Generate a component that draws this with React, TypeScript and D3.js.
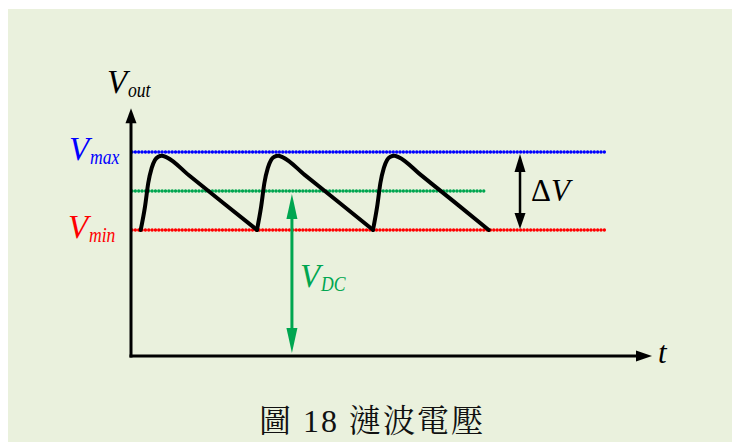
import React from 'react'
import * as d3 from 'd3'

// levels (fraction of Vmax)
const vMax = 1.0
const vMin = 0.618
const vDC = 0.809

// ripple waveform: [t (periods), v]
const cycle1: [number, number][] = [
	[0.084, 0.618], [0.121, 0.732], [0.149, 0.848], [0.179, 0.922], [0.207, 0.961],
	[0.236, 0.977], [0.265, 0.982], [0.308, 0.974], [0.5, 0.886], [0.8, 0.749], [1.088, 0.618]
]
const cycle2: [number, number][] = [
	[1.088, 0.618], [1.124, 0.732], [1.152, 0.848], [1.182, 0.922], [1.21, 0.961],
	[1.24, 0.977], [1.27, 0.982], [1.312, 0.974], [1.5, 0.888], [1.8, 0.751], [2.09, 0.618]
]
const cycle3: [number, number][] = [
	[2.09, 0.618], [2.126, 0.732], [2.154, 0.848], [2.184, 0.922], [2.212, 0.961],
	[2.242, 0.977], [2.272, 0.982], [2.314, 0.974], [2.5, 0.889], [2.8, 0.752], [3.09, 0.618]
]

// horizontal extents
const tAxisEnd = 4.5
const vAxisEnd = 1.215
const levelEnd = 4.11
const dcEnd = 3.07
const deltaT = 3.36
const dcArrowT = 1.39

const W = 732
const H = 442
const serif = 'Liberation Serif, DejaVu Serif, serif'
const green = '#00a650'

// V with a narrow italic subscript
const VLabel = ({ x, y, sub, color }: { x: number; y: number; sub: string; color: string }) => (
	<g fontFamily={serif} fontStyle="italic" fill={color}>
		<text x={x} y={y} fontSize={33}>V</text>
		<text transform={`translate(${x + 21},${y + 4}) scale(0.8,1)`} fontSize={22}>
			{sub}
		</text>
	</g>
)

const App = () => {
	const x = d3.scaleLinear().domain([0, tAxisEnd]).range([131, 652])
	const y = d3.scaleLinear().domain([0, vMax]).range([356, 152])

	const line = d3
		.line<[number, number]>()
		.x((d) => x(d[0]))
		.y((d) => y(d[1]))
		.curve(d3.curveMonotoneX)

	const dotted = (v: number, end: number, color: string) => (
		<line
			x1={x(0) + 1}
			x2={x(end)}
			y1={y(v)}
			y2={y(v)}
			stroke={color}
			strokeWidth={3.4}
			strokeLinecap="round"
			strokeDasharray="0 3.35"
		/>
	)

	// arrow head helper: tip at (tx,ty), pointing direction (dx,dy)
	const head = (tx: number, ty: number, dx: number, dy: number, len: number, wid: number, fill: string) => {
		const bx = tx - dx * len
		const by = ty - dy * len
		const px = -dy * wid / 2
		const py = dx * wid / 2
		return <path d={`M${tx},${ty}L${bx + px},${by + py}L${bx - px},${by - py}Z`} fill={fill} />
	}

	return (
		<svg
			width={W}
			height={H}
			style={{ position: 'absolute', left: 0, top: 0, background: '#fff' }}
		>
			<rect x={8} y={9} width={W - 8} height={H - 9} fill="#eaf1dd" />

			{/* level lines */}
			{dotted(vMax, levelEnd, '#0000ff')}
			{dotted(vDC, dcEnd, green)}
			{dotted(vMin, levelEnd, '#ff0000')}

			{/* waveform */}
			{[cycle1, cycle2, cycle3].map((c, i) => (
				<path
					key={i}
					d={line(c) || ''}
					fill="none"
					stroke="#000"
					strokeWidth={4}
					strokeLinejoin="round"
					strokeLinecap="round"
				/>
			))}

			{/* axes */}
			<line x1={x(0)} x2={x(0)} y1={y(0) + 1.5} y2={y(vAxisEnd) + 12} stroke="#000" strokeWidth={3} />
			{head(x(0), y(vAxisEnd), 0, -1, 15, 11, '#000')}
			<line x1={x(0) - 1.5} x2={x(tAxisEnd) - 12} y1={y(0)} y2={y(0)} stroke="#000" strokeWidth={3} />
			{head(x(tAxisEnd), y(0), 1, 0, 16, 11, '#000')}

			{/* delta V arrow */}
			<line x1={x(deltaT)} x2={x(deltaT)} y1={y(vMax) + 10} y2={y(vMin) - 10} stroke="#000" strokeWidth={2.5} />
			{head(x(deltaT), y(vMax) + 2, 0, -1, 18, 11, '#000')}
			{head(x(deltaT), y(vMin) - 1, 0, 1, 16, 11, '#000')}

			{/* VDC arrow */}
			<line x1={x(dcArrowT)} x2={x(dcArrowT)} y1={y(vDC) + 15} y2={y(0) - 15} stroke={green} strokeWidth={3} />
			{head(x(dcArrowT), y(vDC) + 3, 0, -1, 25, 11, green)}
			{head(x(dcArrowT), y(0) - 3, 0, 1, 25, 11, green)}

			{/* labels */}
			<VLabel x={107} y={93} sub="out" color="#000" />
			<VLabel x={69} y={y(vMax) + 8} sub="max" color="#0000ff" />
			<VLabel x={68} y={y(vMin) + 8} sub="min" color="#ff0000" />
			<VLabel x={300} y={287} sub="DC" color={green} />
			<text x={531} y={201} fontSize={31} fontFamily={serif} fill="#000">
				Δ<tspan fontStyle="italic">V</tspan>
			</text>
			<text x={658} y={363} fontSize={31} fontFamily={serif} fontStyle="italic" fill="#000">
				t
			</text>

			<text
				x={372}
				y={432}
				textAnchor="middle"
				fontSize={32}
				letterSpacing={2}
				fontFamily="Liberation Serif, Noto Serif CJK TC, Noto Sans CJK TC, serif"
				fill="#111"
			>
				圖 18 漣波電壓
			</text>
		</svg>
	)
}

export default App
